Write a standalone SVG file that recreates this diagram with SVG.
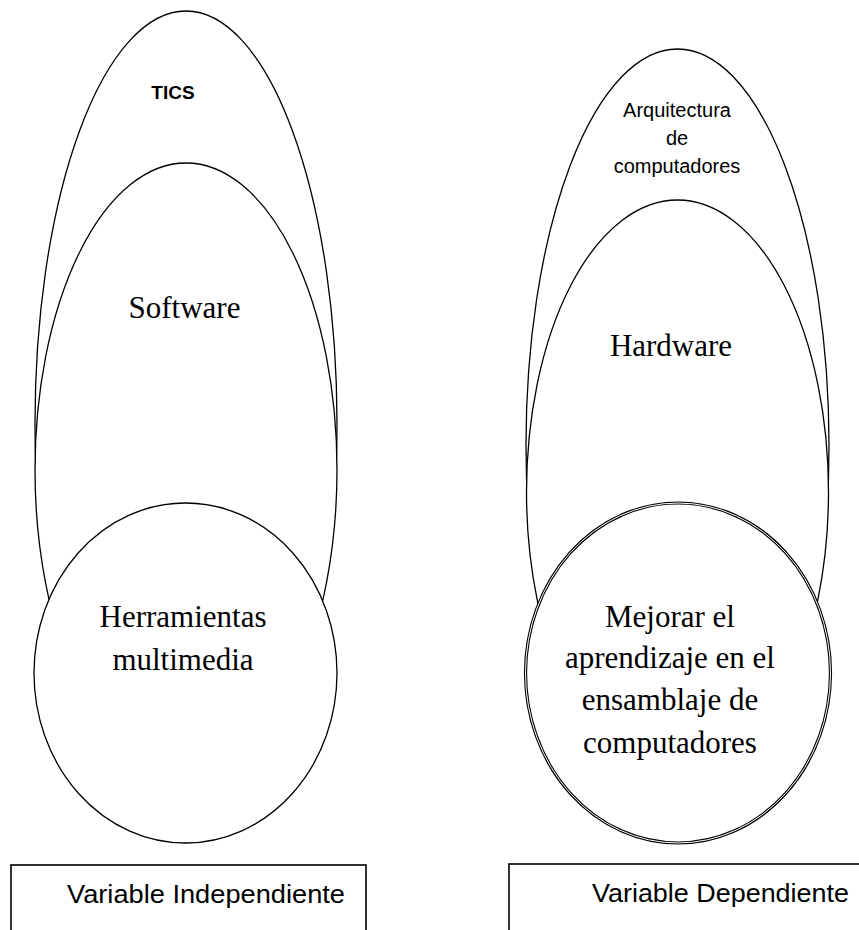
<svg xmlns="http://www.w3.org/2000/svg" width="859" height="930" viewBox="0 0 859 930">
<style>
.sh{fill:#fff;stroke:#000;stroke-width:1.3}
.serif{font-family:"Liberation Serif","Times New Roman",serif;font-size:31px;fill:#000;text-anchor:middle}
.sans{font-family:"Liberation Sans",Arial,sans-serif;fill:#000;text-anchor:middle}
.lbl{font-family:"Liberation Sans",Arial,sans-serif;font-size:25px;fill:#000}
.box{fill:#fff;stroke:#000;stroke-width:1.6}
</style>
<rect width="859" height="930" fill="#fff"/>
<g id="tics">
<ellipse class="sh" cx="186" cy="423" rx="151" ry="412"/>
<text class="sans" x="173" y="99" font-size="19" font-weight="bold">TICS</text>
</g>
<g id="software">
<ellipse class="sh" cx="186" cy="470" rx="151" ry="307"/>
<text class="serif" x="184.5" y="318">Software</text>
</g>
<g id="herramientas">
<ellipse class="sh" cx="185.5" cy="673" rx="151.5" ry="170"/>
<text class="serif" x="183" y="627">Herramientas</text>
<text class="serif" x="183" y="670">multimedia</text>
</g>
<g id="arquitectura">
<ellipse class="sh" cx="677.5" cy="445" rx="151.5" ry="396"/>
<text class="sans" x="677" y="117" font-size="20">Arquitectura</text>
<text class="sans" x="677" y="145" font-size="20">de</text>
<text class="sans" x="677" y="173" font-size="20">computadores</text>
</g>
<g id="hardware">
<ellipse class="sh" cx="677.5" cy="492" rx="151" ry="292"/>
<text class="serif" x="671" y="356">Hardware</text>
</g>
<g id="mejorar">
<ellipse cx="678" cy="673" rx="152.5" ry="170" fill="#fff" stroke="#000" stroke-width="3.2"/>
<ellipse cx="678" cy="673" rx="152.5" ry="170" fill="none" stroke="#fff" stroke-width="1"/>
<text class="serif" x="670" y="627">Mejorar el</text>
<text class="serif" x="670" y="668">aprendizaje en el</text>
<text class="serif" x="670" y="710">ensamblaje de</text>
<text class="serif" x="670" y="753">computadores</text>
</g>
<g id="var-independiente">
<rect class="box" x="11" y="865" width="355" height="80"/>
<text class="lbl" x="67" y="903" textLength="278" lengthAdjust="spacingAndGlyphs">Variable Independiente</text>
</g>
<g id="var-dependiente">
<rect class="box" x="509" y="864" width="370" height="80"/>
<text class="lbl" x="592" y="902" textLength="257" lengthAdjust="spacingAndGlyphs">Variable Dependiente</text>
</g>
<g id="connectors"/>
</svg>
